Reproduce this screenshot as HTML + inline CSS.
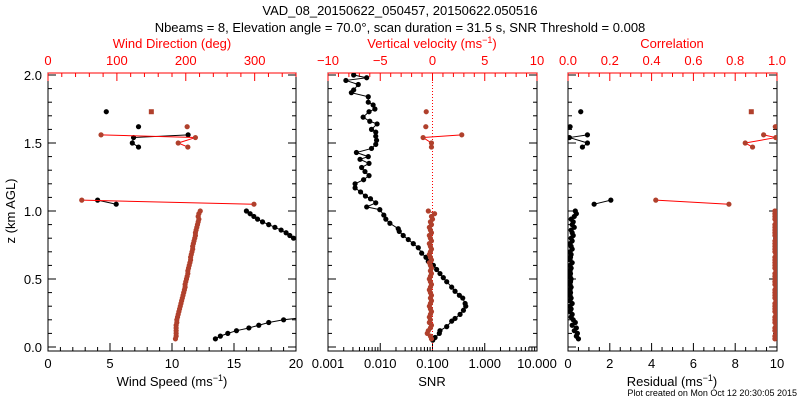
<!DOCTYPE html>
<html><head><meta charset="utf-8"><style>
html,body{margin:0;padding:0;background:#fff;}
svg{display:block;font-family:"Liberation Sans",sans-serif;}
</style></head><body>
<svg id="c" width="800" height="400" xmlns="http://www.w3.org/2000/svg">
<text x="400" y="15" text-anchor="middle" font-size="13">VAD_08_20150622_050457, 20150622.050516</text>
<text x="400" y="32" text-anchor="middle" font-size="13">Nbeams = 8, Elevation angle = 70.0°, scan duration = 31.5 s, SNR Threshold = 0.008</text>
<text x="797" y="396" text-anchor="end" font-size="9">Plot created on Mon Oct 12 20:30:05 2015</text>
<g id="g"></g>
</svg>
<script>
// ---- data ----
const zLow = [0.06,0.08,0.10,0.12,0.14,0.16,0.18,0.20,0.22,0.24,0.26,0.28,0.30,0.32,0.34,0.36,0.38,0.40,0.42,0.44,0.46,0.48,0.50,0.52,0.54,0.56,0.58,0.60,0.62,0.64,0.66,0.68,0.70,0.72,0.74,0.76,0.78,0.80,0.82,0.84,0.86,0.88,0.90,0.92,0.94,0.96,0.98,1.00];
const speedLow = [13.5,13.9,14.5,15.2,16.2,17.0,17.8,19.0,21,23,23,24,24,25,25,26,26,26,27,27,27,27,27,27,26,26,26,25,25,24,24,23,23,22,22,21,20.5,19.8,19.5,19.2,18.8,18.3,17.8,17.3,16.9,16.6,16.3,16.0];
const dirLow = [185,186,186,186,186,186,187,187,188,189,190,191,192,193,194,195,196,197,198,199,199,200,201,202,203,203,204,205,206,207,207,208,209,210,210,211,212,213,214,214,215,216,217,218,219,218,219,221];
const wLow = [-0.1,-0.2,-0.5,-0.4,-0.2,-0.1,-0.3,-0.2,-0.3,-0.2,-0.1,-0.2,-0.3,-0.2,-0.1,-0.2,-0.1,-0.2,-0.3,-0.2,-0.1,-0.2,-0.3,-0.2,-0.1,-0.2,-0.1,-0.2,-0.3,-0.1,-0.2,-0.3,-0.2,-0.1,-0.2,-0.3,-0.1,-0.2,-0.3,-0.1,-0.2,-0.3,-0.1,-0.2,0.0,-0.1,0.2,-0.4];
const resLow = [0.5,0.4,0.45,0.3,0.4,0.2,0.35,0.25,0.15,0.2,0.1,0.15,0.1,0.2,0.1,0.15,0.1,0.12,0.1,0.15,0.1,0.12,0.15,0.1,0.12,0.1,0.15,0.1,0.2,0.1,0.12,0.15,0.1,0.2,0.15,0.1,0.2,0.15,0.25,0.2,0.15,0.3,0.2,0.25,0.15,0.3,0.4,0.35];
const corLow = [0.99,0.99,0.995,0.99,0.99,0.995,0.99,0.99,0.99,0.995,0.99,0.99,0.99,0.99,0.995,0.99,0.99,0.99,0.99,0.995,0.99,0.99,0.99,0.99,0.99,0.995,0.99,0.99,0.99,0.99,0.99,0.995,0.99,0.99,0.99,0.99,0.99,0.995,0.99,0.99,0.99,0.99,0.99,0.995,0.99,0.99,0.99,0.99];
const zMid = [1.08,1.05];
const speedMid = [4.0,5.5];
const dirMid = [49,299];
const resMid = [2.05,1.25];
const corMid = [0.42,0.77];
const zUp = [1.56,1.54,1.50,1.47];
const speedUp = [11.3,6.9,6.8,7.3];
const dirUp = [77,214,189,203];
const wUp = [2.8,-0.9,-0.1,-0.1];
const resUp = [0.93,0.07,0.93,0.69];
const corUp = [0.936,0.994,0.848,0.883];
const zIso = [1.73,1.62];
const speedIso = [4.7,7.3];
const dirIso = [150,202];
const wIso = [-0.6,-0.64];
const resIso = [0.61,0.1];
const corIso = [0.877,0.992];
const zSnr = [2.00,1.98,1.96,1.93,1.89,1.87,1.84,1.80,1.78,1.75,1.73,1.69,1.66,1.64,1.60,1.58,1.55,1.52,1.49,1.46,1.43,1.40,1.38,1.35,1.32,1.29,1.26,1.23,1.20,1.17,1.14,1.11,1.09,1.06,1.03,1.01,0.97,0.94,0.91,0.87,0.85,0.82,0.79,0.76,0.73,0.69,0.66,0.63,0.60,0.57,0.54,0.51,0.48,0.44,0.41,0.38,0.36,0.32,0.30,0.27,0.24,0.21,0.19,0.15,0.12,0.10,0.07,0.05];
const snrVals = [0.0031,0.0055,0.0022,0.0038,0.0031,0.0028,0.0059,0.0059,0.0073,0.0079,0.0061,0.0047,0.0063,0.0087,0.0068,0.0082,0.0082,0.0085,0.0082,0.0068,0.0035,0.0059,0.0041,0.0061,0.0044,0.0051,0.0061,0.0048,0.0033,0.0033,0.0042,0.0052,0.0065,0.0082,0.0055,0.0098,0.0117,0.0128,0.0153,0.0221,0.0231,0.0275,0.0344,0.0429,0.0535,0.062,0.075,0.083,0.104,0.120,0.139,0.161,0.187,0.233,0.270,0.327,0.379,0.421,0.433,0.391,0.337,0.270,0.233,0.187,0.139,0.135,0.112,0.101];

// ---- layout ----
const NS="http://www.w3.org/2000/svg";
const G=document.getElementById('g');
const TOP=73,BOT=351;
const yz=z=>347-z*136;
const P=[{l:48,r:296},{l:328,r:537},{l:568,r:777}];
const RED="#ff0000",BR="#b0402c";
function el(tg,a,p){const e=document.createElementNS(NS,tg);for(const k in a)e.setAttribute(k,a[k]);(p||G).appendChild(e);return e;}
function txt(x,y,s,anchor,col,size,p){const e=el('text',{x:x,y:y,'text-anchor':anchor,fill:col,'font-size':size||13},p);e.textContent=s;return e;}
function lin(lo,hi,p){return v=>p.l+(v-lo)/(hi-lo)*(p.r-p.l);}
const xSpd=lin(0,20,P[0]),xDir=lin(0,360,P[0]);
const xSnr=v=>P[1].l+(Math.log10(v)+3)/4*(P[1].r-P[1].l);
const xW=lin(-10,10,P[1]);
const xRes=lin(0,10,P[2]),xCor=lin(0,1,P[2]);

const defs=el('defs',{});
P.forEach((p,i)=>{const c=el('clipPath',{id:'cp'+i},defs);el('rect',{x:p.l,y:TOP,width:p.r-p.l,height:BOT-TOP},c);});

P.forEach((p,i)=>{
 const b=el('rect',{x:p.l,y:TOP,width:p.r-p.l,height:BOT-TOP,fill:'none',stroke:'#000','stroke-width':1});
 
 
 el('line',{x1:p.l,x2:p.r,y1:TOP,y2:TOP,stroke:RED});
 for(let k=0;k<=20;k++){const y=yz(k/10),L=k%5==0?8:4;
  el('line',{x1:p.l,x2:p.l+L,y1:y,y2:y,stroke:'#000'});
  el('line',{x1:p.r,x2:p.r-L,y1:y,y2:y,stroke:'#000'});}
});
['0.0','0.5','1.0','1.5','2.0'].forEach((s,k)=>{const e=txt(42,yz(k*0.5)+5,s,'end','#000',13);});
const yt=txt(0,0,'z (km AGL)','middle','#000',13);yt.setAttribute('transform','translate(15,211) rotate(-90)');


function ticksB(f,vals,majorF){vals.forEach(v=>{const x=f(v),L=majorF(v)?8:4;el('line',{x1:x,x2:x,y1:BOT,y2:BOT-L,stroke:'#000'});});}
function ticksT(f,vals,majorF){vals.forEach(v=>{const x=f(v),L=majorF(v)?8:4;el('line',{x1:x,x2:x,y1:TOP,y2:TOP+L,stroke:RED});});}
const rng=(a,b,s)=>{const r=[];for(let v=a;v<=b+1e-9;v+=s)r.push(+v.toFixed(4));return r;};
ticksB(xSpd,rng(0,20,1),v=>v%5==0);
ticksT(xDir,rng(0,360,20),v=>v%100==0);
[0,5,10,15,20].forEach(v=>{const e=txt(xSpd(v),368,String(v),'middle','#000');});
[0,100,200,300].forEach(v=>{const e=txt(xDir(v),65,String(v),'middle',RED);});
let tt;
tt=txt(172,48,'Wind Direction (deg)','middle',RED);
tt=el('text',{x:172,y:386,'text-anchor':'middle','font-size':13});tt.innerHTML='Wind Speed (ms<tspan dy="-5" font-size="9">−1</tspan><tspan dy="5">)</tspan>';

const logT=[];for(let d=-3;d<1;d++)for(let m=1;m<10;m++)logT.push(m*Math.pow(10,d));logT.push(10);
logT.forEach(v=>{const x=xSnr(v),lg=Math.log10(v),maj=Math.abs(lg-Math.round(lg))<1e-6;el('line',{x1:x,x2:x,y1:BOT,y2:BOT-(maj?8:4),stroke:'#000'});});
ticksT(xW,rng(-10,10,1),v=>v%5==0);
['0.001','0.010','0.100','1.000','10.000'].forEach((s,k)=>{const e=txt(xSnr(Math.pow(10,k-3)),368,s,'middle','#000');});
[-10,-5,0,5,10].forEach(v=>{const e=txt(xW(v),65,v<0?'−'+(-v):String(v),'middle',RED);});
tt=el('text',{x:432,y:48,'text-anchor':'middle','font-size':13,fill:RED});tt.innerHTML='Vertical velocity (ms<tspan dy="-5" font-size="9">−1</tspan><tspan dy="5">)</tspan>';

tt=txt(432,386,'SNR','middle','#000');
el('line',{x1:xW(0),x2:xW(0),y1:TOP,y2:BOT,stroke:RED,'stroke-dasharray':'1,2'});
ticksB(xRes,rng(0,10,0.5),v=>v%2==0);
ticksT(xCor,rng(0,1,0.05),v=>Math.abs(v*5-Math.round(v*5))<1e-6);
[0,2,4,6,8,10].forEach(v=>{const e=txt(xRes(v),368,String(v),'middle','#000');});
['0.0','0.2','0.4','0.6','0.8','1.0'].forEach((s,k)=>{const e=txt(xCor(k*0.2),65,s,'middle',RED);});
tt=txt(672,48,'Correlation','middle',RED);
tt=el('text',{x:672,y:386,'text-anchor':'middle','font-size':13});tt.innerHTML='Residual (ms<tspan dy="-5" font-size="9">−1</tspan><tspan dy="5">)</tspan>';


function series(pi,xf,xs,zs,col,lineCol,name,sq){
 const g=el('g',{'clip-path':'url(#cp'+pi+')'});
 
 
 if(lineCol&&xs.length>1){el('polyline',{points:xs.map((v,i)=>xf(v)+','+yz(zs[i])).join(' '),fill:'none',stroke:lineCol,'stroke-width':1},g);}
 xs.forEach((v,i)=>{const x=xf(v),y=yz(zs[i]);
  if(sq)el('rect',{x:x-2.5,y:y-2.5,width:5,height:5,fill:col},g);
  else el('circle',{cx:x,cy:y,r:2.6,fill:col},g);});
}
series(0,xSpd,speedLow,zLow,'#000','#000','speed-low');
series(0,xSpd,speedMid,zMid,'#000','#000','speed-mid');
series(0,xSpd,speedUp,zUp,'#000','#000','speed-up');
series(0,xSpd,speedIso,zIso,'#000',null,'speed-iso');
series(0,xDir,dirLow,zLow,BR,BR,'direction-low');
series(0,xDir,dirMid,zMid,BR,RED,'direction-mid');
series(0,xDir,dirUp,zUp,BR,RED,'direction-up');
series(0,xDir,dirIso.slice(0,1),zIso.slice(0,1),BR,null,'direction-iso-sq',true);
series(0,xDir,dirIso.slice(1),zIso.slice(1),BR,null,'direction-iso');
series(1,xSnr,snrVals,zSnr,'#000','#000','snr-profile');
series(1,xW,wLow,zLow,BR,BR,'w-low');
series(1,xW,wUp,zUp,BR,RED,'w-up');
series(1,xW,wIso,zIso,BR,null,'w-iso');
series(2,xRes,resLow,zLow,'#000','#000','residual-low');
series(2,xRes,resMid,zMid,'#000','#000','residual-mid');
series(2,xRes,resUp,zUp,'#000','#000','residual-up');
series(2,xRes,resIso,zIso,'#000',null,'residual-iso');
series(2,xCor,corLow,zLow,BR,BR,'correlation-low');
series(2,xCor,corMid,zMid,BR,RED,'correlation-mid');
series(2,xCor,corUp,zUp,BR,RED,'correlation-up');
series(2,xCor,corIso.slice(0,1),zIso.slice(0,1),BR,null,'correlation-iso-sq',true);
series(2,xCor,corIso.slice(1),zIso.slice(1),BR,null,'correlation-iso');
</script>
</body></html>
